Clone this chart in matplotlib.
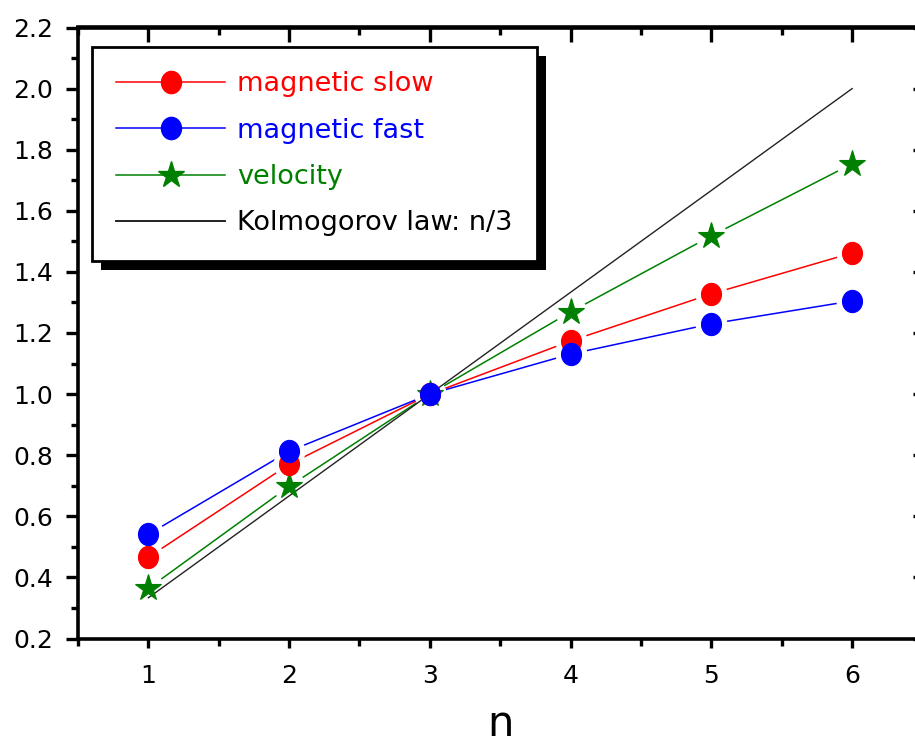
import matplotlib
matplotlib.use("Agg")
import matplotlib.pyplot as plt
from matplotlib.patches import Rectangle
from matplotlib.lines import Line2D
from matplotlib.path import Path
from matplotlib.ticker import MultipleLocator, FormatStrFormatter
import numpy as np

n = [1, 2, 3, 4, 5, 6]
mag_slow = [0.466, 0.77, 1.0, 1.174, 1.328, 1.462]
mag_fast = [0.541, 0.813, 1.0, 1.131, 1.23, 1.305]
velocity = [0.364, 0.698, 1.0, 1.269, 1.518, 1.754]
kolmogorov = [v / 3 for v in n]

labels = ["magnetic slow", "magnetic fast", "velocity", "Kolmogorov law: n/3"]
colors = ["#ff0000", "#0000ff", "#008000", "#222222"]

circ = Path.unit_circle()
ellipse = Path(circ.vertices * np.array([0.9, 1.0]), circ.codes)

W, H = 915, 748
plt.rcParams["font.family"] = ["DejaVu Sans"]
fig = plt.figure(figsize=(W / 100, H / 100), dpi=100)
ax = fig.add_axes([78 / W, 109.5 / H, 844.5 / W, 611 / H])

series = [(mag_slow, colors[0], ellipse, 16),
          (mag_fast, colors[1], ellipse, 16),
          (velocity, colors[2], "*", 20)]

# connecting lines
for ys, c, m, ms in series:
    ax.plot(n, ys, color=c, lw=1.1, zorder=2)
# white halos so lines stop short of the symbols (Origin style)
for ys, c, m, ms in series:
    ax.plot(n, ys, ls="none", marker="o", ms=23, mfc="white", mec="none", zorder=3)
# Kolmogorov reference line
ax.plot(n, kolmogorov, color=colors[3], lw=1.0, zorder=3.5)
# symbols
for ys, c, m, ms in [series[2], series[0], series[1]]:
    ax.plot(n, ys, ls="none", marker=m, ms=ms, mfc=c, mec=c, mew=0.8, zorder=4)

ax.set_xlim(0.5, 6.5)
ax.set_ylim(0.2, 2.2)
ax.xaxis.set_major_locator(MultipleLocator(1))
ax.xaxis.set_minor_locator(MultipleLocator(0.5))
ax.yaxis.set_major_locator(MultipleLocator(0.2))
ax.yaxis.set_minor_locator(MultipleLocator(0.1))
ax.yaxis.set_major_formatter(FormatStrFormatter("%.1f"))

for s in ax.spines.values():
    s.set_linewidth(2.6)

ax.tick_params(axis="both", which="major", direction="out", width=2.4, labelsize=18)
ax.tick_params(axis="x", which="major", length=6.5, pad=12)
ax.tick_params(axis="x", which="minor", direction="out", length=5, width=2.4)
ax.tick_params(axis="y", which="major", length=9, pad=9)
ax.tick_params(axis="y", which="minor", direction="out", length=5, width=2.4)

secx = ax.secondary_xaxis("top")
secx.xaxis.set_major_locator(MultipleLocator(1))
secx.xaxis.set_minor_locator(MultipleLocator(0.5))
secx.tick_params(which="major", direction="in", length=11, width=2.4, labeltop=False)
secx.tick_params(which="minor", direction="in", length=6, width=2.4)
secx.spines["top"].set_linewidth(2.6)

secy = ax.secondary_yaxis("right")
secy.yaxis.set_major_locator(MultipleLocator(0.2))
secy.yaxis.set_minor_locator(MultipleLocator(0.1))
secy.tick_params(which="major", direction="in", length=7.5, width=2.4, labelright=False)
secy.tick_params(which="minor", direction="in", length=4, width=2.4)

ax.set_xlabel("n", fontsize=30, labelpad=11)

handles = [Line2D([], [], color=colors[0], lw=1.1, marker=ellipse, ms=16, mfc=colors[0], mec=colors[0]),
           Line2D([], [], color=colors[1], lw=1.1, marker=ellipse, ms=16, mfc=colors[1], mec=colors[1]),
           Line2D([], [], color=colors[2], lw=1.1, marker="*", ms=20, mfc=colors[2], mec=colors[2]),
           Line2D([], [], color=colors[3], lw=1.4)]
leg = ax.legend(handles, labels,
                loc="upper left", bbox_to_anchor=(92 / W, 1 - 47 / H),
                bbox_transform=fig.transFigure,
                fontsize=19.5, frameon=True, fancybox=False, framealpha=1,
                edgecolor="black", handlelength=4.0, handletextpad=0.45,
                labelspacing=0.75, borderpad=0.9, borderaxespad=0)
leg.get_frame().set_linewidth(2.0)
for t, c in zip(leg.get_texts(), ["#ff0000", "#0000ff", "#008000", "black"]):
    t.set_color(c)
leg.set_zorder(10)

fig.canvas.draw()
bb = leg.get_window_extent()
shadow = Rectangle((bb.x0 + 9, bb.y0 - 9), bb.width, bb.height, transform=None,
                   facecolor="black", edgecolor="none", zorder=9)
shadow.set_clip_on(False)
ax.add_artist(shadow)

fig.savefig("out.png", dpi=100)
